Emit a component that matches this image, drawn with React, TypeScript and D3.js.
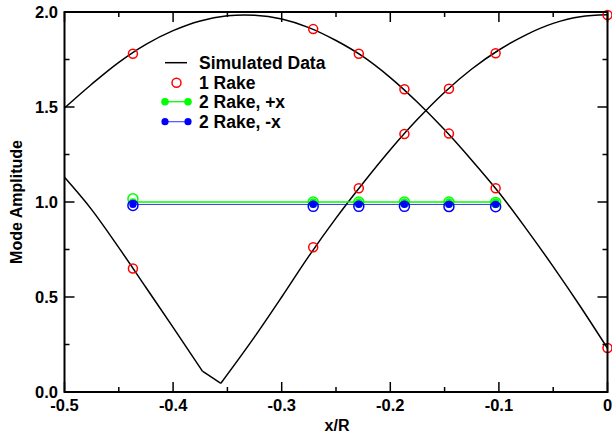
import React from "react";
import * as d3 from "d3";

// ---- data ----
const simXA = [-0.5, -0.475, -0.45, -0.425, -0.4, -0.373, -0.356, -0.325, -0.3, -0.275, -0.25, -0.225, -0.2, -0.175, -0.15, -0.125, -0.1, -0.075, -0.05, -0.025, 0];
const simYA = [1.13, 0.96, 0.76, 0.55, 0.34, 0.11, 0.046, 0.29, 0.5, 0.715, 0.915, 1.1, 1.275, 1.435, 1.578, 1.7, 1.8, 1.88, 1.94, 1.975, 1.985];
const simXB = [-0.5, -0.475, -0.45, -0.425, -0.4, -0.375, -0.35, -0.325, -0.3, -0.275, -0.25, -0.225, -0.2, -0.175, -0.15, -0.125, -0.1, -0.075, -0.05, -0.025, 0];
const simYB = [1.495, 1.62, 1.735, 1.83, 1.902, 1.953, 1.98, 1.983, 1.963, 1.918, 1.85, 1.765, 1.655, 1.525, 1.38, 1.22, 1.05, 0.86, 0.66, 0.45, 0.23];

const rakeX = [-0.437, -0.271, -0.229, -0.187, -0.146, -0.103, 0];
const rake1Upper = [1.78, 1.91, 1.78, 1.593, 1.596, 1.783, 1.984];
const rake1Lower = [0.65, 0.762, 1.072, 1.358, 1.36, 1.072, 0.232];

const rake2X = [-0.437, -0.271, -0.229, -0.187, -0.146, -0.103];
const rake2PlusLine = [1.0, 1.0, 1.0, 1.0, 1.0, 1.0];
const rake2PlusOpen = [1.017, 1.0, 1.0, 1.0, 1.0, 0.998];
const rake2MinusLine = [0.987, 0.987, 0.987, 0.987, 0.987, 0.987];
const rake2MinusOpen = [0.982, 0.977, 0.977, 0.977, 0.976, 0.975];

const xTicks = [-0.5, -0.4, -0.3, -0.2, -0.1, 0];
const xTickLabels = ["-0.5", "-0.4", "-0.3", "-0.2", "-0.1", "0"];
const xMinor = [-0.45, -0.35, -0.25, -0.15, -0.05];
const yTicks = [0, 0.5, 1.0, 1.5, 2.0];
const yTickLabels = ["0.0", "0.5", "1.0", "1.5", "2.0"];
const yMinor = [0.25, 0.75, 1.25, 1.75];

const legendLabels = ["Simulated Data", "1 Rake", "2 Rake, +x", "2 Rake, -x"];

const FONT = "'Liberation Sans', Arial, Helvetica, sans-serif";
const RED = "#ff0000";
const GREEN = "#00ff00";
const BLUE = "#0000ff";

export default function App() {
  const W = 612, H = 439;
  const L = 64.5, R = 607.5, T = 12, B = 392;
  const x = d3.scaleLinear().domain([-0.5, 0]).range([L, R]);
  const y = d3.scaleLinear().domain([0, 2]).range([B, T]);

  const smooth = d3.line<[number, number]>().x(d => x(d[0])).y(d => y(d[1])).curve(d3.curveMonotoneX);
  const straight = d3.line<[number, number]>().x(d => x(d[0])).y(d => y(d[1]));
  const ptsA = simXA.map((v, i) => [v, simYA[i]] as [number, number]);
  const kink = simXA.indexOf(-0.356);
  const pathA1 = smooth(ptsA.slice(0, kink)) || "";
  const pathAk = straight(ptsA.slice(kink - 1, kink + 1)) || "";
  const pathA2 = smooth(ptsA.slice(kink)) || "";
  const pathB = d3.line<[number, number]>().x(d => x(d[0])).y(d => y(d[1])).curve(d3.curveCatmullRom)(simXB.map((v, i) => [v, simYB[i]] as [number, number])) || "";
  const pathPlus = straight(rake2X.map((v, i) => [v, rake2PlusLine[i]] as [number, number])) || "";
  const pathMinus = straight(rake2X.map((v, i) => [v, rake2MinusLine[i]] as [number, number])) || "";

  const major = 10, minor = 5;
  const legX0 = 165, legX1 = 188, legTextX = 199;
  const legY = [62.7, 82.7, 101.7, 121.7];

  return (
    <svg width={W} height={H} style={{ position: "absolute", left: 0, top: 0, display: "block", background: "#fff" }}>
      {/* curves */}
      <path d={pathA1} fill="none" stroke="#000" strokeWidth={1.5} />
      <path d={pathAk} fill="none" stroke="#000" strokeWidth={1.5} />
      <path d={pathA2} fill="none" stroke="#000" strokeWidth={1.5} />
      <path d={pathB} fill="none" stroke="#000" strokeWidth={1.5} />

      {/* 1 rake */}
      {rakeX.map((v, i) => (
        <g key={"r" + i}>
          <circle cx={x(v)} cy={y(rake1Upper[i])} r={4.5} fill="none" stroke={RED} strokeWidth={1.5} />
          <circle cx={x(v)} cy={y(rake1Lower[i])} r={4.5} fill="none" stroke={RED} strokeWidth={1.5} />
        </g>
      ))}

      {/* 2 rake +x */}
      {rake2X.map((v, i) => (
        <circle key={"go" + i} cx={x(v)} cy={y(rake2PlusOpen[i])} r={5} fill="none" stroke={GREEN} strokeWidth={1.5} />
      ))}
      <path d={pathPlus} fill="none" stroke={GREEN} strokeWidth={1.3} />
      {rake2X.map((v, i) => (
        <circle key={"gf" + i} cx={x(v)} cy={y(rake2PlusLine[i])} r={3.8} fill={GREEN} />
      ))}

      {/* 2 rake -x */}
      <path d={pathMinus} fill="none" stroke={BLUE} strokeWidth={1.1} strokeOpacity={0.75} />
      {rake2X.map((v, i) => (
        <circle key={"bf" + i} cx={x(v)} cy={y(rake2MinusLine[i])} r={3.6} fill={BLUE} />
      ))}
      {rake2X.map((v, i) => (
        <circle key={"bo" + i} cx={x(v)} cy={y(rake2MinusOpen[i])} r={5} fill="none" stroke={BLUE} strokeWidth={1.5} />
      ))}

      {/* frame */}
      <rect x={L} y={T} width={R - L} height={B - T} fill="none" stroke="#000" strokeWidth={2} />

      {/* ticks */}
      {xTicks.map((v, i) => (
        <g key={"xt" + i}>
          <line x1={x(v)} x2={x(v)} y1={B} y2={B - major} stroke="#000" strokeWidth={1.5} />
          <line x1={x(v)} x2={x(v)} y1={T} y2={T + major} stroke="#000" strokeWidth={1.5} />
          <text x={x(v)} y={411} textAnchor="middle" fontFamily={FONT} fontWeight="bold" fontSize={16.5}>{xTickLabels[i]}</text>
        </g>
      ))}
      {xMinor.map((v, i) => (
        <g key={"xm" + i}>
          <line x1={x(v)} x2={x(v)} y1={B} y2={B - minor} stroke="#000" strokeWidth={1.5} />
          <line x1={x(v)} x2={x(v)} y1={T} y2={T + minor} stroke="#000" strokeWidth={1.5} />
        </g>
      ))}
      {yTicks.map((v, i) => (
        <g key={"yt" + i}>
          <line x1={L} x2={L + major} y1={y(v)} y2={y(v)} stroke="#000" strokeWidth={1.5} />
          <line x1={R} x2={R - major} y1={y(v)} y2={y(v)} stroke="#000" strokeWidth={1.5} />
          <text x={58} y={y(v) + 5.5} textAnchor="end" fontFamily={FONT} fontWeight="bold" fontSize={16.5}>{yTickLabels[i]}</text>
        </g>
      ))}
      {yMinor.map((v, i) => (
        <g key={"ym" + i}>
          <line x1={L} x2={L + minor} y1={y(v)} y2={y(v)} stroke="#000" strokeWidth={1.5} />
          <line x1={R} x2={R - minor} y1={y(v)} y2={y(v)} stroke="#000" strokeWidth={1.5} />
        </g>
      ))}

      {/* axis titles */}
      <text x={337} y={431} textAnchor="middle" fontFamily={FONT} fontWeight="bold" fontSize={16}>x/R</text>
      <text transform={`translate(22,${(T + B) / 2}) rotate(-90)`} textAnchor="middle" fontFamily={FONT} fontWeight="bold" fontSize={16}>Mode Amplitude</text>

      {/* legend */}
      <line x1={legX0} x2={legX1 - 1} y1={legY[0]} y2={legY[0]} stroke="#000" strokeWidth={1.5} />
      <circle cx={(legX0 + legX1) / 2} cy={legY[1]} r={4.5} fill="none" stroke={RED} strokeWidth={1.5} />
      <line x1={legX0} x2={legX1} y1={legY[2]} y2={legY[2]} stroke={GREEN} strokeWidth={1.3} />
      <circle cx={legX0} cy={legY[2]} r={3.8} fill={GREEN} />
      <circle cx={legX1} cy={legY[2]} r={3.8} fill={GREEN} />
      <line x1={legX0} x2={legX1} y1={legY[3]} y2={legY[3]} stroke={BLUE} strokeWidth={1.1} strokeOpacity={0.75} />
      <circle cx={legX0} cy={legY[3]} r={3.6} fill={BLUE} />
      <circle cx={legX1} cy={legY[3]} r={3.6} fill={BLUE} />
      {legendLabels.map((t, i) => (
        <text key={"lt" + i} x={legTextX} y={legY[i] + 6} fontFamily={FONT} fontWeight="bold" fontSize={17.5}>{t}</text>
      ))}
    </svg>
  );
}
